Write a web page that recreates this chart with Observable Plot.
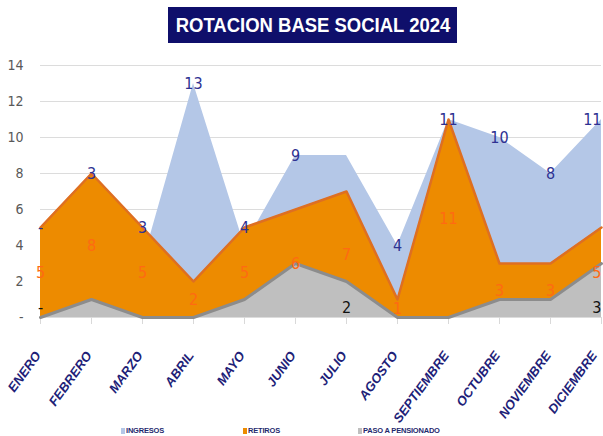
<!DOCTYPE html>
<html><head><meta charset="utf-8">
<script src="https://cdn.jsdelivr.net/npm/d3@7"></script>
<script src="https://cdn.jsdelivr.net/npm/@observablehq/plot@0.6"></script>
<style>
body{margin:0;background:#fff;width:603px;height:436px;position:relative;overflow:hidden;font-family:"Liberation Sans",Arial,sans-serif}
#title{position:absolute;left:168px;top:7px;width:289px;height:36px;background:#0f0f6b;display:flex;align-items:center;justify-content:center}
#title span{color:#fff;font-weight:bold;font-size:21px;transform:scaleX(0.88);white-space:nowrap;display:inline-block}
#chart{position:absolute;left:0;top:50px}
.leg{position:absolute;top:426px;font-size:7.5px;font-weight:bold;color:#1f2a6e;display:flex;align-items:center;white-space:nowrap;letter-spacing:-0.2px}
.leg i{display:inline-block;width:4px;height:6px;margin-right:1px}
</style></head><body>
<div id="title"><span>ROTACION BASE SOCIAL 2024</span></div>
<div id="chart"></div>
<div id="legend"></div>
<script>
const months = ["ENERO","FEBRERO","MARZO","ABRIL","MAYO","JUNIO","JULIO","AGOSTO","SEPTIEMBRE","OCTUBRE","NOVIEMBRE","DICIEMBRE"];
const ingresos = [0,3,3,13,4,9,9,4,11,10,8,11];
const retiros  = [5,8,5,2,5,6,7,1,11,3,3,5];
const pension  = [0,1,0,0,1,3,2,0,0,1,1,3];
const yTicks = [0,2,4,6,8,10,12,14];
const seriesNames = ["INGRESOS","RETIROS","PASO A PENSIONADO"];
const seriesColors = ["#b4c7e7","#ed8b00","#bfbfbf"];
const pensionLabelMonths = ["ENERO","JULIO","DICIEMBRE"];
const ingresosUnlabeled = ["JULIO"];

const fmt = v => v === 0 ? "-" : String(v);
const rows = months.map((m,i)=>({m, ing: ingresos[i], ret: retiros[i], pen: pension[i]}));
const narrow = '"Liberation Sans Narrow","DejaVu Sans Condensed","Liberation Sans",sans-serif';
const lastMonth = months[months.length - 1];

// value labels; the last month is right-aligned so it stays inside the page
function labels(data, opts) {
  return [
    Plot.text(data.filter(d => d.m !== lastMonth), opts),
    Plot.text(data.filter(d => d.m === lastMonth), {...opts, textAnchor: "end"})
  ];
}

const monthLabelStyle = {
  frameAnchor: "bottom", dy: 38, rotate: -54, textAnchor: "end",
  fontSize: 13, fontWeight: "bold", fontStyle: "italic", fill: "#1e1e78"
};

const chart = Plot.plot({
  width: 603, height: 370,
  marginTop: 15, marginBottom: 103, marginLeft: 40, marginRight: 2,
  x: {type: "point", domain: months, padding: 0, axis: null, label: null},
  y: {domain: [0, 14], axis: null, label: null},
  style: {fontFamily: '"Liberation Sans",Arial,sans-serif', background: "transparent", overflow: "visible"},
  marks: [
    Plot.gridY(yTicks, {stroke: "#dcdcdc", strokeOpacity: 1}),
    Plot.axisY(yTicks, {tickSize: 0, tickPadding: 17, tickFormat: fmt, fontSize: 14, fill: "#595959", fontFamily: narrow, label: null}),
    Plot.axisX({tickSize: 7, tickFormat: () => "", stroke: "#d9d9d9", label: null}),
    Plot.areaY(rows, {x: "m", y: "ing", fill: seriesColors[0], curve: "linear"}),
    Plot.areaY(rows, {x: "m", y: "ret", fill: seriesColors[1], curve: "linear"}),
    Plot.lineY(rows, {x: "m", y: "ret", stroke: "#de6f22", strokeWidth: 2.5}),
    Plot.areaY(rows, {x: "m", y: "pen", fill: seriesColors[2], curve: "linear"}),
    Plot.lineY(rows, {x: "m", y: "pen", stroke: "#8c8c8c", strokeWidth: 3}),
    ...labels(rows.filter(d => !ingresosUnlabeled.includes(d.m)), {
      x: "m", y: d => Math.max(d.ing, d.ret), text: d => fmt(d.ing),
      fill: "#2e3192", fontSize: 16, fontFamily: narrow
    }),
    ...labels(rows, {
      x: "m", y: d => d.ret / 2, text: d => fmt(d.ret),
      fill: "#ff6a13", fontSize: 16, fontFamily: narrow
    }),
    ...labels(rows.filter(d => pensionLabelMonths.includes(d.m)), {
      x: "m", y: 0, dy: -10, text: d => fmt(d.pen),
      fill: "#111", fontSize: 16, fontFamily: narrow
    }),
    Plot.text(months.filter(m => m !== lastMonth), {x: d => d, dx: 1, ...monthLabelStyle}),
    Plot.text([lastMonth], {x: d => d, dx: -4, ...monthLabelStyle})
  ]
});
document.getElementById("chart").appendChild(chart);

const legendX = [121, 243, 358];
const legend = document.getElementById("legend");
seriesNames.forEach((name, i) => {
  const d = document.createElement("div");
  d.className = "leg";
  d.style.left = legendX[i] + "px";
  d.innerHTML = `<i style="background:${seriesColors[i]}"></i>${name}`;
  legend.appendChild(d);
});
</script>
</body></html>
